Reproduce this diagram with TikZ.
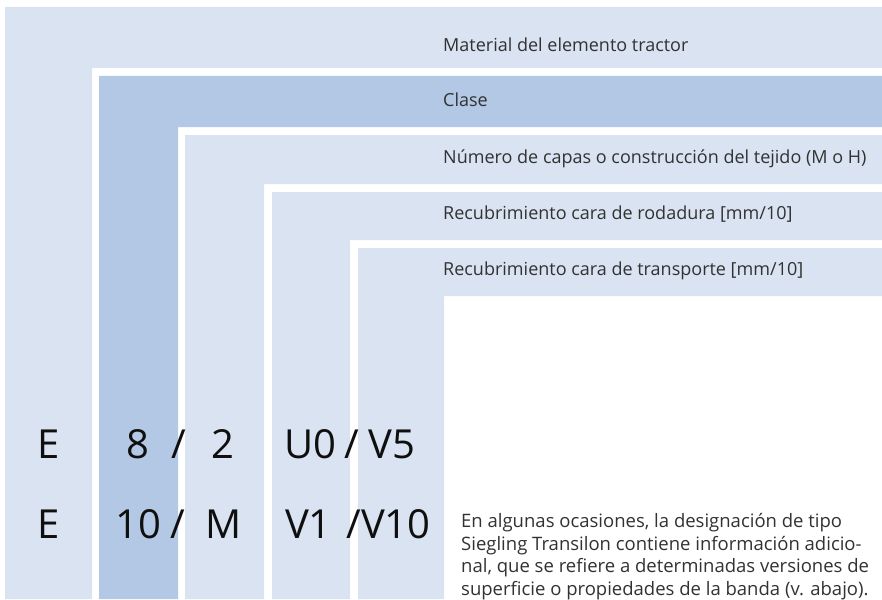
\documentclass[tikz,border=0pt]{standalone}
\usepackage{fontspec}
\setmainfont{Open Sans}
\definecolor{lightband}{RGB}{217,227,241}
\definecolor{darkband}{RGB}{179,200,228}
\definecolor{labelgray}{RGB}{50,50,50}
\definecolor{bigtext}{RGB}{15,15,15}
\begin{document}
\begin{tikzpicture}[x=1pt,y=-1pt,
  label/.style={anchor=base west,inner sep=0pt,text=labelgray,font=\fontsize{18}{20}\selectfont},
  big/.style={anchor=base,inner sep=0pt,text=bigtext,font=\fontsize{40}{44}\selectfont}]
\useasboundingbox (0,0) rectangle (882,599);
% L-shaped bands
\fill[lightband] (5,7) -- (882,7) -- (882,68) -- (92,68) -- (92,599) -- (5,599) -- cycle;
\fill[darkband] (99,76) -- (882,76) -- (882,127) -- (178,127) -- (178,599) -- (99,599) -- cycle;
\fill[lightband] (185,135) -- (882,135) -- (882,184) -- (264,184) -- (264,599) -- (185,599) -- cycle;
\fill[lightband] (272,192) -- (882,192) -- (882,240) -- (350,240) -- (350,599) -- (272,599) -- cycle;
\fill[lightband] (358,248) -- (882,248) -- (882,296) -- (444,296) -- (444,599) -- (358,599) -- cycle;
% labels
\node[label] (l1) at (443,51.5) {Material del elemento tractor};
\node[label] (l2) at (443,106.5) {Clase};
\node[label] (l3) at (443,163) {Número de capas o construcción del tejido (M o H)};
\node[label] (l4) at (443,219) {Recubrimiento cara de rodadura [mm/10]};
\node[label] (l5) at (443,275) {Recubrimiento cara de transporte [mm/10]};
% big codes row 1
\node[big] (a1) at (48.5,458) {E};
\node[big] (a2) at (137.5,458) {8};
\node[big] (a3) at (178.5,458) {/};
\node[big] (a4) at (223,458) {2};
\node[big] (a5) at (310,458) {U0};
\node[big] (a6) at (352,458) {/};
\node[big] (a7) at (392,458) {V5};
% big codes row 2
\node[big] (b1) at (48.5,538) {E};
\node[big] (b2) at (138.5,538) {10};
\node[big] (b3) at (178,538) {/};
\node[big] (b4) at (223.5,538) {M};
\node[big] (b5) at (308.5,538) {V1};
\node[big] (b6) at (388.5,538) {/V10};
% paragraph (base anchor = last line)
\node[anchor=base west,inner sep=0pt,text=labelgray,align=left,font=\fontsize{18.5}{22.5}\selectfont] (p) at (461,595)
 {En algunas ocasiones, la designación de tipo\\
  Siegling Transilon contiene información adicio-\\
  nal, que se refiere a determinadas versiones de\\
  superficie o propiedades de la banda (v. abajo).};
\end{tikzpicture}
\end{document}
